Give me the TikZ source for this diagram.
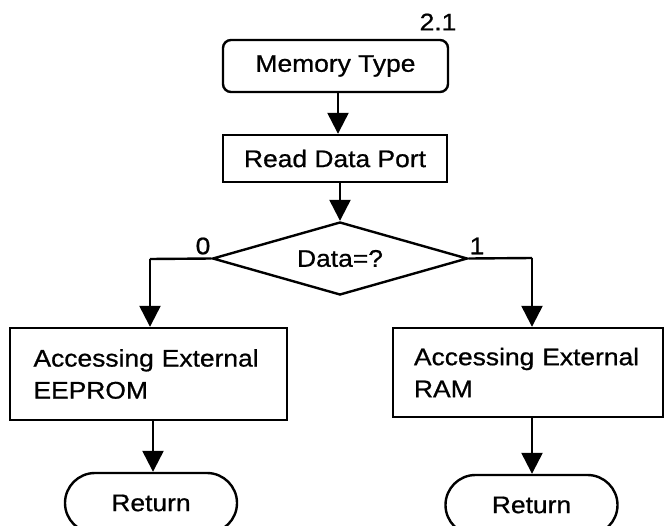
\documentclass[tikz,border=0pt]{standalone}
\usepackage{fontspec}
\setmainfont[FakeStretch=1.1,FakeBold=0.8]{Liberation Sans}
\usetikzlibrary{arrows.meta,shapes.geometric,shapes.misc}
\tikzset{
  base/.style={draw=black, line width=2.4pt, inner sep=0pt, font=\fontsize{24}{32}\selectfont},
  procbox/.style={base, rectangle},
  startbox/.style={base, rectangle, rounded corners=8pt},
  endbox/.style={base, rounded rectangle, minimum width=172pt, minimum height=60pt},
  decbox/.style={base, diamond, minimum width=255pt, minimum height=73pt, shape aspect=3.5},
  lbl/.style={font=\fontsize{24}{28}\selectfont, inner sep=0pt},
  flow/.style={line width=2.4pt, -{Triangle[length=21pt,width=21pt]}},
  plain/.style={line width=2.4pt}
}
\begin{document}
\begin{tikzpicture}[x=1pt,y=-1pt]
\useasboundingbox (0,0) rectangle (664,525);
\clip (0,0) rectangle (664,525);
\node[startbox, minimum width=225pt, minimum height=52pt] (mem) at (335.5,66) {Memory Type};
\node[lbl] (num) at (438,22) {2.1};
\node[procbox, minimum width=224pt, minimum height=47pt] (read) at (335,158.5) {Read Data Port};
\node[decbox] (dec) at (340,258.5) {Data=?};
\node[procbox, minimum width=277pt, minimum height=92pt, text width=230pt, align=left] (eep) at (148.5,374) {Accessing External\\EEPROM};
\node[procbox, minimum width=270pt, minimum height=89pt, text width=228pt, align=left] (ram) at (528,372.5) {Accessing External\\RAM};
\node[endbox] (ret1) at (151,503) {Return};
\node[endbox] (ret2) at (531.5,505) {Return};
\node[lbl] (l0) at (203,246) {0};
\node[lbl] (l1) at (477,246) {1};
\coordinate (c0) at (150,259);
\coordinate (c1) at (532,258);
\draw[flow] (mem.south -| 338,0) -- (read.north -| 338,0);
\draw[flow] (read.south -| 340,0) -- (dec.north);
\draw[plain] (dec.west) -- (c0);
\draw[flow] (c0) -- (eep.north -| c0);
\draw[plain] (dec.east) -- (c1);
\draw[flow] (c1) -- (ram.north -| c1);
\draw[flow] (eep.south -| 153,0) -- (ret1.north -| 153,0);
\draw[flow] (ram.south -| 532,0) -- (ret2.north -| 532,0);
\end{tikzpicture}
\end{document}
